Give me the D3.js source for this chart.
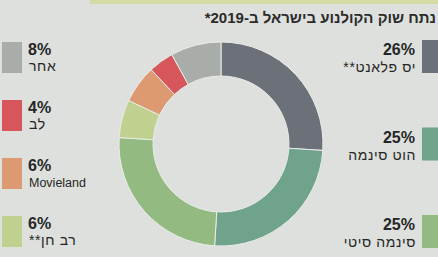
<!DOCTYPE html>
<html>
<head>
<meta charset="utf-8">
<script src="https://cdn.jsdelivr.net/npm/d3@7"></script>
<style>
  body { margin: 0; background: #dde0dc; }
  svg { display: block; font-family: "Liberation Sans", Arial, sans-serif; }
</style>
</head>
<body>
<svg id="chart" width="438" height="257"></svg>
<script>
// market share of cinema chains in Israel, 2019
const names = ['יס פלאנט**', 'הוט סינמה', 'סינמה סיטי', 'רב חן**', 'Movieland', 'לב', 'אחר'];
const shares = [26, 25, 25, 6, 6, 4, 8];
const title = 'נתח שוק הקולנוע בישראל ב-2019*';

const palette = ['#6c7079', '#6fa38c', '#93ba80', '#bfd08f', '#dd9a72', '#d6565c', '#a9adaa'];

const width = 438;
const height = 257;
const cx = 221;
const cy = 144;
const outerR = 102;
const innerR = 68;

const data = names.map((name, i) => ({ name, value: shares[i] }));
const isHebrew = (s) => /[\u0590-\u05FF]/.test(s);

const svg = d3.select('#chart');

const color = d3.scaleOrdinal().domain(names).range(palette);

// yellowish strip at the top of the clipping
svg.append('rect')
  .attr('x', 90).attr('y', 0)
  .attr('width', width - 90).attr('height', 4)
  .attr('fill', '#d6daa4');

svg.append('text')
  .attr('x', 436)
  .attr('y', 23)
  .attr('direction', 'rtl')
  .attr('text-anchor', 'start')
  .attr('font-size', 15)
  .attr('font-weight', 'bold')
  .attr('fill', '#2b2b2b')
  .text(title);

const pie = d3.pie().sort(null).value((d) => d.value);
const arc = d3.arc().outerRadius(outerR).innerRadius(innerR);

svg.append('g')
  .attr('transform', `translate(${cx},${cy})`)
  .selectAll('path')
  .data(pie(data))
  .enter().append('path')
  .attr('d', arc)
  .attr('fill', (d) => color(d.data.name))
  .attr('stroke', '#e8ece6')
  .attr('stroke-width', 1);

// legend: first three on the right, the rest on the left (bottom up)
const rightItems = data.slice(0, 3);
const leftItems = data.slice(3).reverse();

const rightY = d3.scalePoint().domain(rightItems.map((d) => d.name)).range([40, 215]);
const leftY = d3.scalePoint().domain(leftItems.map((d) => d.name)).range([42, 216]);

const right = svg.append('g').selectAll('g')
  .data(rightItems)
  .enter().append('g')
  .attr('transform', (d) => `translate(0,${rightY(d.name)})`);

right.append('rect')
  .attr('x', 422).attr('y', 0)
  .attr('width', 18).attr('height', 33)
  .attr('fill', (d) => color(d.name));

right.append('text')
  .attr('x', 415).attr('y', 15)
  .attr('text-anchor', 'end')
  .attr('font-size', 16)
  .attr('font-weight', 'bold')
  .attr('fill', '#262626')
  .text((d) => `${d.value}%`);

right.append('text')
  .attr('x', 416).attr('y', 32)
  .attr('direction', 'rtl')
  .attr('text-anchor', 'start')
  .attr('font-size', 14)
  .attr('letter-spacing', 0.6)
  .attr('fill', '#262626')
  .text((d) => d.name);

const left = svg.append('g').selectAll('g')
  .data(leftItems)
  .enter().append('g')
  .attr('transform', (d) => `translate(0,${leftY(d.name)})`);

left.append('rect')
  .attr('x', 2).attr('y', 0)
  .attr('width', 20).attr('height', 31)
  .attr('fill', (d) => color(d.name));

left.append('text')
  .attr('x', 28).attr('y', 13)
  .attr('font-size', 16)
  .attr('font-weight', 'bold')
  .attr('fill', '#262626')
  .text((d) => `${d.value}%`);

left.append('text')
  .attr('x', 29).attr('y', 29)
  .attr('direction', (d) => (isHebrew(d.name) ? 'rtl' : 'ltr'))
  .attr('text-anchor', (d) => (isHebrew(d.name) ? 'end' : 'start'))
  .attr('font-size', (d) => (isHebrew(d.name) ? 14 : 12.5))
  .attr('letter-spacing', (d) => (isHebrew(d.name) ? 0.6 : 0))
  .attr('fill', '#262626')
  .text((d) => d.name);
</script>
</body>
</html>
